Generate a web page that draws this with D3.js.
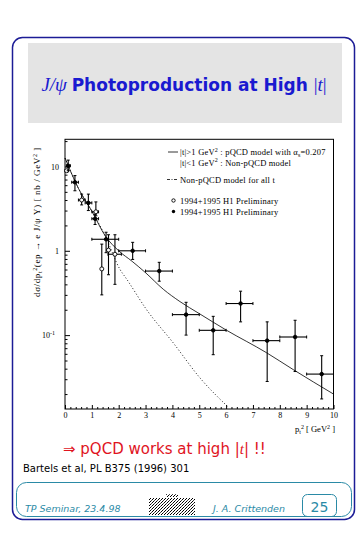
<!DOCTYPE html>
<html>
<head>
<meta charset="utf-8">
<script src="https://cdn.jsdelivr.net/npm/d3@7"></script>
<style>
body { margin: 0; background: #fff; }
svg { display: block; }
</style>
</head>
<body>
<div id="chart-area"></div>
<script>

// data
var filledT   = [0.12, 0.37, 0.87, 1.12, 1.53, 2.52, 3.51, 4.51, 5.52, 6.54, 7.53, 8.57, 9.56];
var filledVal = [10.2, 6.5, 3.7, 2.4, 1.37, 1.0, 0.575, 0.175, 0.114, 0.237, 0.086, 0.095, 0.0345];
var filledLo  = [8.9, 5.15, 3.0, 2.05, 0.95, 0.79, 0.436, 0.10, 0.0586, 0.1436, 0.0282, 0.037, 0.0175];
var filledHi  = [11.9, 7.8, 4.7, 2.7, 1.66, 1.26, 0.73, 0.245, 0.167, 0.332, 0.1436, 0.15, 0.057];
var filledTLo = [0.05, 0.25, 0.75, 1.0, 1.0, 2.0, 3.0, 4.0, 5.0, 6.0, 7.0, 8.0, 9.0];
var filledTHi = [0.2, 0.5, 1.0, 1.25, 2.0, 3.0, 4.0, 5.0, 6.0, 7.0, 8.0, 9.0, 10.0];

var openT   = [0.06, 0.62, 1.15, 1.37, 1.62, 1.86];
var openVal = [8.9, 4.0, 2.9, 0.61, 1.02, 0.91];
var openLo  = [8.9, 3.5, 2.6, 0.3, 0.52, 0.4];
var openHi  = [8.9, 4.7, 3.8, 1.2, 1.55, 1.55];
var openTLo = [0.0, 0.5, 1.0, 1.37, 1.62, 1.6];
var openTHi = [0.12, 0.75, 1.25, 1.37, 1.62, 2.1];

// model curves
var solidT   = [0, 0.5, 1.0, 1.5, 2.0, 2.5, 3.0, 3.66, 4.28, 5.0, 6.0, 7.5, 8.5, 10.0];
var solidVal = [12.6, 5.5, 2.95, 1.5, 1.0, 0.75, 0.55, 0.35, 0.25, 0.18, 0.115, 0.062, 0.039, 0.020];
var dottedT   = [0, 0.5, 1.0, 1.5, 2.05, 2.3, 3.04, 4.03, 5.03, 6.08];
var dottedVal = [12.6, 5.5, 2.95, 1.5, 0.6, 0.46, 0.2, 0.081, 0.031, 0.014];

var xTicks = [0, 1, 2, 3, 4, 5, 6, 7, 8, 9, 10];
var yTicks = [10, 1, 0.1];

var W = 363, H = 535;
var svg = d3.select("#chart-area").append("svg")
	.attr("width", W)
	.attr("height", H);

// slide frame
svg.append("rect")
	.attr("x", 12.5).attr("y", 37.5)
	.attr("width", 342).attr("height", 482)
	.attr("rx", 10).attr("ry", 10)
	.attr("fill", "none")
	.attr("stroke", "#1c1c96")
	.attr("stroke-width", 1.5);

svg.append("rect")
	.attr("x", 28).attr("y", 43)
	.attr("width", 314).attr("height", 80)
	.attr("fill", "#e4e4e4");

var title = svg.append("text")
	.attr("x", 184).attr("y", 91)
	.attr("text-anchor", "middle")
	.attr("fill", "#1a1ad0")
	.style("font-size", "17px");
title.append("tspan")
	.style("font-family", "Liberation Serif")
	.style("font-style", "italic")
	.style("font-size", "19px")
	.text("J/ψ ");
title.append("tspan")
	.style("font-family", "DejaVu Sans")
	.style("font-weight", "bold")
	.text("Photoproduction at High ");
title.append("tspan")
	.style("font-family", "Liberation Serif")
	.style("font-size", "19px")
	.text("|");
title.append("tspan")
	.style("font-family", "Liberation Serif")
	.style("font-style", "italic")
	.style("font-size", "19px")
	.text("t");
title.append("tspan")
	.style("font-family", "Liberation Serif")
	.style("font-size", "19px")
	.text("|");

// plot
var x = d3.scaleLinear().domain([0, 10]).range([65, 333.5]);
var y = d3.scaleLog().domain([0.0133, 21]).range([409, 139.3]);

var plot = svg.append("g");

plot.append("rect")
	.attr("x", x(0)).attr("y", y(21))
	.attr("width", x(10) - x(0)).attr("height", y(0.0133) - y(21))
	.attr("fill", "none").attr("stroke", "#000").attr("stroke-width", 1);

var minorX = d3.range(0, 10.01, 0.2).filter(function(d) { return Math.abs(d - Math.round(d)) > 0.01; });

var xAxis = d3.axisBottom(x).tickValues(xTicks).tickSize(-4).tickPadding(3)
	.tickFormat(d3.format("d"));
plot.append("g")
	.attr("transform", "translate(0," + y(0.0133) + ")")
	.call(xAxis);
plot.append("g")
	.attr("transform", "translate(0," + y(0.0133) + ")")
	.call(d3.axisBottom(x).tickValues(minorX).tickSize(-2).tickFormat(""));

var minorY = [];
[0.01, 0.1, 1, 10].forEach(function(dec) {
	for (var k = 2; k <= 9; k++) {
		var v = dec * k;
		if (v > 0.0133 && v < 21) minorY.push(v);
	}
});

var yAxis = d3.axisLeft(y).tickValues(yTicks).tickSize(-5).tickPadding(6)
	.tickFormat(function(d) { return d === 0.1 ? "10" : d3.format("d")(d); });
var yg = plot.append("g")
	.attr("transform", "translate(" + x(0) + ",0)")
	.call(yAxis);
yg.selectAll(".tick text")
	.filter(function(d) { return d === 0.1; })
	.attr("x", -10)
	.append("tspan")
	.attr("dy", "-0.5em")
	.style("font-size", "6px")
	.text("-1");
plot.append("g")
	.attr("transform", "translate(" + x(0) + ",0)")
	.call(d3.axisLeft(y).tickValues(minorY).tickSize(-2.5).tickFormat(""));

plot.selectAll(".domain").remove();
plot.selectAll(".tick line").attr("stroke", "#000");
plot.selectAll(".tick text")
	.style("font-family", "Liberation Serif")
	.style("font-size", "8px")
	.attr("fill", "#000");

// model curves
var line = d3.line()
	.x(function(d) { return x(d[0]); })
	.y(function(d) { return y(d[1]); })
	.curve(d3.curveMonotoneX);

plot.append("path")
	.datum(d3.zip(dottedT, dottedVal))
	.attr("d", line)
	.attr("fill", "none")
	.attr("stroke", "#000")
	.attr("stroke-width", 0.9)
	.attr("stroke-dasharray", "1,2.2");

plot.append("path")
	.datum(d3.zip(solidT, solidVal))
	.attr("d", line)
	.attr("fill", "none")
	.attr("stroke", "#000")
	.attr("stroke-width", 0.8);

// data points
function drawPoints(ts, vals, los, his, tlos, this_, open) {
	var pts = ts.map(function(t, i) {
		return {t: t, v: vals[i], lo: los[i], hi: his[i], tlo: tlos[i], thi: this_[i]};
	});
	var g = plot.append("g").selectAll("g").data(pts).enter().append("g");
	g.append("line")
		.attr("x1", function(d) { return x(d.t); })
		.attr("x2", function(d) { return x(d.t); })
		.attr("y1", function(d) { return y(d.lo); })
		.attr("y2", function(d) { return y(d.hi); })
		.attr("stroke", "#000").attr("stroke-width", 1.1);
	g.append("line")
		.attr("x1", function(d) { return x(d.tlo); })
		.attr("x2", function(d) { return x(d.thi); })
		.attr("y1", function(d) { return y(d.v); })
		.attr("y2", function(d) { return y(d.v); })
		.attr("stroke", "#000").attr("stroke-width", 1.1);
	// caps
	["lo", "hi"].forEach(function(k) {
		g.filter(function(d) { return d.lo !== d.hi; }).append("line")
			.attr("x1", function(d) { return x(d.t) - 1.5; })
			.attr("x2", function(d) { return x(d.t) + 1.5; })
			.attr("y1", function(d) { return y(d[k]); })
			.attr("y2", function(d) { return y(d[k]); })
			.attr("stroke", "#000").attr("stroke-width", 1);
	});
	["tlo", "thi"].forEach(function(k) {
		g.filter(function(d) { return d.tlo !== d.thi; }).append("line")
			.attr("x1", function(d) { return x(d[k]); })
			.attr("x2", function(d) { return x(d[k]); })
			.attr("y1", function(d) { return y(d.v) - 1.5; })
			.attr("y2", function(d) { return y(d.v) + 1.5; })
			.attr("stroke", "#000").attr("stroke-width", 1);
	});
	g.append("circle")
		.attr("cx", function(d) { return x(d.t); })
		.attr("cy", function(d) { return y(d.v); })
		.attr("r", open ? 2 : 1.8)
		.attr("fill", open ? "#fff" : "#000")
		.attr("stroke", "#000")
		.attr("stroke-width", 0.9);
}

drawPoints(openT, openVal, openLo, openHi, openTLo, openTHi, true);
drawPoints(filledT, filledVal, filledLo, filledHi, filledTLo, filledTHi, false);

// legend
var leg = plot.append("g")
	.style("font-family", "Liberation Serif")
	.style("font-size", "8.5px")
	.style("letter-spacing", "0.2px");

leg.append("line").attr("x1", 168).attr("x2", 178).attr("y1", 152).attr("y2", 152)
	.attr("stroke", "#000").attr("stroke-width", 0.8);
var l1 = leg.append("text").attr("x", 180).attr("y", 155);
l1.append("tspan").text("|t|>1 GeV");
l1.append("tspan").attr("dy", -3.5).style("font-size", "6px").text("2");
l1.append("tspan").attr("dy", 3.5).text(" :  pQCD model with α");
l1.append("tspan").attr("dy", 1.5).style("font-size", "6px").text("s");
l1.append("tspan").attr("dy", -1.5).text("=0.207");

var l2 = leg.append("text").attr("x", 180).attr("y", 165.5);
l2.append("tspan").text("|t|<1 GeV");
l2.append("tspan").attr("dy", -3.5).style("font-size", "6px").text("2");
l2.append("tspan").attr("dy", 3.5).text(" :  Non-pQCD model");

leg.append("line").attr("x1", 167).attr("x2", 178).attr("y1", 179.5).attr("y2", 179.5)
	.attr("stroke", "#000").attr("stroke-width", 0.8).attr("stroke-dasharray", "3,1.5,1,1.5");
leg.append("text").attr("x", 180).attr("y", 182.5).text("Non-pQCD model for all t");

leg.append("circle").attr("cx", 173.5).attr("cy", 200.5).attr("r", 1.7)
	.attr("fill", "#fff").attr("stroke", "#000").attr("stroke-width", 0.9);
leg.append("text").attr("x", 180).attr("y", 203.5).text("1994+1995 H1 Preliminary");
leg.append("circle").attr("cx", 173.5).attr("cy", 211.5).attr("r", 1.7)
	.attr("fill", "#000");
leg.append("text").attr("x", 180).attr("y", 214.5).text("1994+1995 H1 Preliminary");

// axis titles
var yt = plot.append("text")
	.attr("transform", "translate(40,222) rotate(-90)")
	.attr("text-anchor", "middle")
	.style("font-family", "Liberation Serif")
	.style("font-size", "9px")
	.style("letter-spacing", "0.6px");
yt.append("tspan").text("dσ/dp");
yt.append("tspan").attr("dy", 2).style("font-size", "6px").text("t");
yt.append("tspan").attr("dy", -5.5).style("font-size", "6px").text("2");
yt.append("tspan").attr("dy", 3.5).text("(ep → e J/ψ Y)  [ nb / GeV");
yt.append("tspan").attr("dy", -3.5).style("font-size", "6px").text("2");
yt.append("tspan").attr("dy", 3.5).text(" ]");

var xt = plot.append("text")
	.attr("x", 335).attr("y", 432)
	.attr("text-anchor", "end")
	.style("font-family", "Liberation Serif")
	.style("font-size", "8.5px");
xt.append("tspan").text("p");
xt.append("tspan").attr("dy", 2).style("font-size", "6px").text("t");
xt.append("tspan").attr("dy", -5).style("font-size", "6px").text("2");
xt.append("tspan").attr("dy", 3).text(" [ GeV");
xt.append("tspan").attr("dy", -3).style("font-size", "6px").text("2");
xt.append("tspan").attr("dy", 3).text(" ]");

// conclusion
var concl = svg.append("text")
	.attr("x", 63).attr("y", 454)
	.attr("fill", "#e0141e")
	.style("font-family", "DejaVu Sans")
	.style("font-size", "15px");
concl.append("tspan").text("⇒ ");
concl.append("tspan").text("pQCD works at high |");
concl.append("tspan").style("font-style", "italic").style("font-family", "Liberation Serif").text("t");
concl.append("tspan").text("| !!");

svg.append("text")
	.attr("x", 23).attr("y", 472)
	.style("font-family", "DejaVu Sans")
	.style("font-size", "10px")
	.text("Bartels et al, PL B375 (1996) 301");

// footer
var teal = "#2a8aa6";
svg.append("rect")
	.attr("x", 16.5).attr("y", 482.5)
	.attr("width", 335).attr("height", 34)
	.attr("rx", 10).attr("ry", 10)
	.attr("fill", "none").attr("stroke", teal).attr("stroke-width", 1);

svg.append("text")
	.attr("x", 25).attr("y", 512)
	.attr("fill", teal)
	.style("font-family", "DejaVu Sans")
	.style("font-style", "italic")
	.style("font-size", "9.5px")
	.text("TP Seminar, 23.4.98");

svg.append("text")
	.attr("x", 213).attr("y", 512)
	.attr("fill", teal)
	.style("font-family", "DejaVu Sans")
	.style("font-style", "italic")
	.style("font-size", "9.5px")
	.text("J. A. Crittenden");

svg.append("rect")
	.attr("x", 302.5).attr("y", 494.5)
	.attr("width", 34).attr("height", 22)
	.attr("rx", 5).attr("ry", 5)
	.attr("fill", "none").attr("stroke", teal).attr("stroke-width", 1);
svg.append("text")
	.attr("x", 319.5).attr("y", 512)
	.attr("text-anchor", "middle")
	.attr("fill", teal)
	.style("font-family", "DejaVu Sans")
	.style("font-size", "14px")
	.text("25");

// small logo (dithered)
var defs = svg.append("defs");
var pat = defs.append("pattern")
	.attr("id", "dither").attr("width", 3).attr("height", 3)
	.attr("patternUnits", "userSpaceOnUse");
pat.append("rect").attr("width", 1).attr("height", 1).attr("fill", "#000");
pat.append("rect").attr("x", 2).attr("y", 1).attr("width", 1).attr("height", 1).attr("fill", "#000");
pat.append("rect").attr("x", 1).attr("y", 2).attr("width", 1).attr("height", 1).attr("fill", "#444");
svg.append("rect")
	.attr("x", 149).attr("y", 498).attr("width", 46).attr("height", 17)
	.attr("fill", "url(#dither)");
svg.append("rect")
	.attr("x", 166).attr("y", 494).attr("width", 12).attr("height", 3)
	.attr("fill", "url(#dither)");

</script>
</body>
</html>
